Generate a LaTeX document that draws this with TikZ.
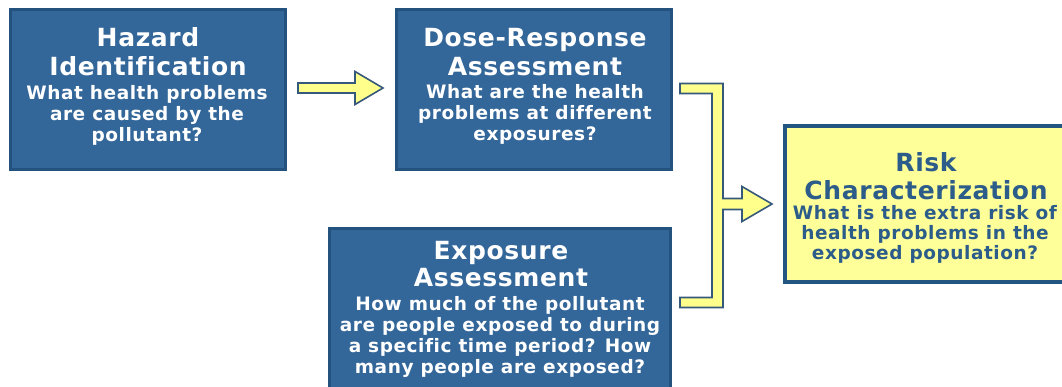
\documentclass[tikz,border=0pt]{standalone}
\usepackage{fontspec}
\usetikzlibrary{calc}
\newfontfamily\headfont{DejaVu Sans}[LetterSpace=2.5, Ligatures=NoCommon]
\newfontfamily\askfont{DejaVu Sans}[LetterSpace=3, Ligatures=NoCommon]
\definecolor{boxblue}{HTML}{336699}
\definecolor{boxedge}{HTML}{24527E}
\definecolor{riskfill}{HTML}{FFFF99}
\definecolor{riskedge}{HTML}{245682}
\definecolor{risktext}{HTML}{2C5C8A}
\definecolor{arrowfill}{HTML}{FFFF8C}
\definecolor{arrowedge}{HTML}{36587A}
\tikzset{
  box/.style={rectangle, draw=boxedge, fill=boxblue, line width=3pt, outer sep=0pt, inner sep=0pt},
  riskbox/.style={rectangle, draw=riskedge, fill=riskfill, line width=4pt, outer sep=0pt, inner sep=0pt},
  head/.style={anchor=base, inner sep=0pt, text=white, font=\headfont\bfseries\fontsize{25}{25}\selectfont},
  ask/.style={anchor=base, inner sep=0pt, text=white, font=\askfont\bfseries\fontsize{18.5}{18.5}\selectfont},
  blockarrow/.style={draw=arrowedge, fill=arrowfill, line width=1.6pt, line join=miter}
}
\begin{document}
\begin{tikzpicture}[x=1pt, y=-1pt]
\useasboundingbox (0,0) rectangle (1062,387);
\fill[white] (0,0) rectangle (1062,387);
\clip (0,0) rectangle (1062,387);

% the four stages
\node[box, minimum width=275pt, minimum height=160pt] (hazard) at (148,89.5) {};
\node[box, minimum width=275pt, minimum height=160pt] (dose) at (534,89.5) {};
\node[box, minimum width=341pt, minimum height=175pt] (exposure) at (500,316) {};
\node[riskbox, minimum width=285pt, minimum height=156pt] (risk) at (927.5,204) {};

% texts of the stages
\foreach \s [count=\i] in {Hazard, Identification}
  \node[head] (hzT\i) at (148, 47+29*\i-29) {\s};
\foreach \s [count=\i] in {What health problems, are caused by the, pollutant?}
  \node[ask] (hzQ\i) at (147, 99.5+21*\i-21) {\s};

\foreach \s [count=\i] in {Dose-Response, Assessment}
  \node[head] (drT\i) at (535, 47+28.5*\i-28.5) {\s};
\foreach \s [count=\i] in {What are the health, problems at different, exposures?}
  \node[ask] (drQ\i) at (535, 99+21*\i-21) {\s};

\foreach \s [count=\i] in {Exposure, Assessment}
  \node[head] (exT\i) at (501, 260+27*\i-27) {\s};
\foreach \s [count=\i] in {How much of the pollutant, are people exposed to during, a specific time period? How, many people are exposed?}
  \node[ask] (exQ\i) at (500, 310+21.2*\i-21.2) {\s};

\foreach \s [count=\i] in {Risk, Characterization}
  \node[head, text=risktext] (rkT\i) at (926, 172+28*\i-28) {\s};
\foreach \s [count=\i] in {What is the extra risk of, health problems in the, exposed population?}
  \node[ask, text=risktext] (rkQ\i) at (925, 220+20*\i-20) {\s};

% hazard -> dose-response
\draw[blockarrow] let \p1=($(hazard.east)+(12.5,-1.5)$), \p2=($(dose.west)+(-13.5,-1.5)$) in
  (\x1,\y1+5pt) -- (\x2-28pt,\y1+5pt) -- (\x2-28pt,\y1+16.5pt) -- (\x2,\y1)
  -- (\x2-28pt,\y1-16.5pt) -- (\x2-28pt,\y1-5pt) -- (\x1,\y1-5pt) -- cycle;

% dose-response and exposure joined into risk characterization
\draw[blockarrow] let \p1=($(dose.east)+(8.5,-1)$), \p2=($(exposure.north east)+(9.5,74)$),
    \p3=($(risk.west)+(-13,0)$) in
  (\x1,\y1+5pt) -- (\x1+43pt,\y1+5pt) -- (\x1+43pt,\y3+5.5pt) -- (\x3-30pt,\y3+5.5pt)
  -- (\x3-30pt,\y3+17.5pt) -- (\x3,\y3) -- (\x3-30pt,\y3-17.5pt) -- (\x3-30pt,\y3-5.5pt)
  -- (\x1+43pt,\y3-5.5pt) -- (\x1+43pt,\y2-5pt) -- (\x1,\y2-5pt) -- (\x1,\y2+5pt)
  -- (\x1+32pt,\y2+5pt) -- (\x1+32pt,\y1-5pt) -- (\x1,\y1-5pt) -- cycle;
\end{tikzpicture}
\end{document}
